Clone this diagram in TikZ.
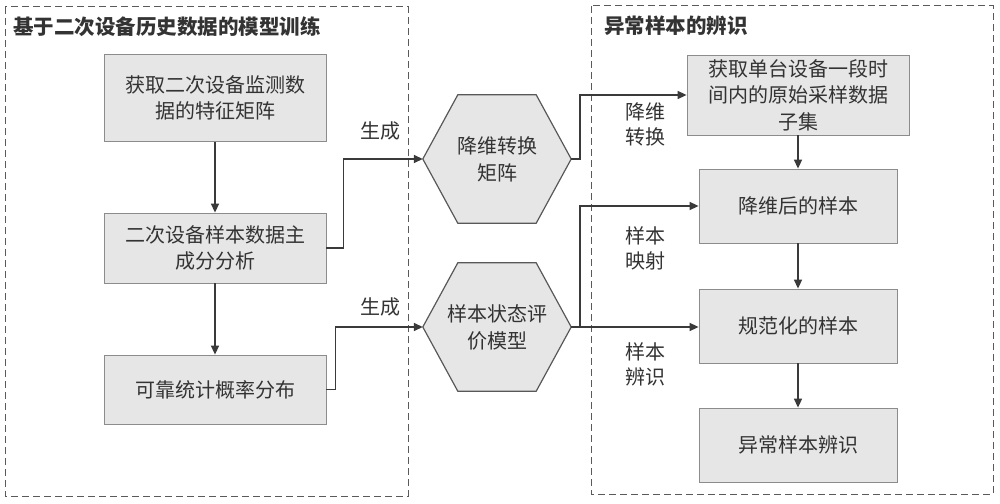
\documentclass[tikz,border=0pt]{standalone}
\usepackage{fontspec}
\setmainfont{Noto Sans CJK SC}
\usetikzlibrary{arrows.meta,backgrounds}
\definecolor{txt}{HTML}{333333}
\definecolor{ln}{HTML}{3A3A3A}
\definecolor{boxfill}{HTML}{E6E6E6}
\definecolor{boxline}{HTML}{8C8C8C}
\definecolor{dash}{HTML}{5A5A5A}
\tikzset{
  procbox/.style={draw=boxline,fill=boxfill,line width=0.8pt,inner sep=0pt,align=center,text=txt,
    font=\fontsize{20}{26.5}\selectfont},
  hexnode/.style={inner sep=0pt,align=center,text=txt,minimum width=148pt,minimum height=128pt,
    font=\fontsize{20}{27}\selectfont},
  hexline/.style={draw=ln!85,fill=boxfill,line width=1.2pt},
  lbl/.style={text=txt,align=center,inner sep=0pt,font=\fontsize{20}{25}\selectfont},
  ttl/.style={text=txt,anchor=west,inner sep=0pt,font=\fontsize{20.5}{22}\selectfont\bfseries},
  frame/.style={draw=dash,line width=1pt,dash pattern=on 7pt off 4pt},
  arr/.style={draw=ln,line width=1.5pt,-{Triangle[length=9pt,width=8pt]}},
}
\begin{document}
\begin{tikzpicture}[x=1pt,y=-1pt]
\useasboundingbox (0,0) rectangle (1000,503);
% frames
\draw[frame] (5,7) rectangle (408,496);
\draw[frame] (591,6) rectangle (993,494);
\node[ttl] (t1) at (13,27) {基于二次设备历史数据的模型训练};
\node[ttl] (t2) at (604,26) {异常样本的辨识};
% left boxes
\node[procbox,minimum width=222pt,minimum height=87pt] (b1) at (215,98) {获取二次设备监测数\\据的特征矩阵};
\node[procbox,minimum width=222pt,minimum height=70pt] (b2) at (215,248) {二次设备样本数据主\\成分分析};
\node[procbox,minimum width=222pt,minimum height=69pt] (b3) at (215,389.5) {可靠统计概率分布};
% hexagons
\node[hexnode] (h1) at (497,159) {降维转换\\矩阵};
\node[hexnode] (h2) at (497,327) {样本状态评\\价模型};
\begin{scope}[on background layer]
\foreach \h in {h1,h2}{
  \draw[hexline] (\h.west) -- ([xshift=35pt]\h.north west) -- ([xshift=-35pt]\h.north east)
    -- (\h.east) -- ([xshift=-35pt]\h.south east) -- ([xshift=35pt]\h.south west) -- cycle;
}
\end{scope}
% right boxes
\node[procbox,minimum width=222pt,minimum height=80pt] (r1) at (798,95) {获取单台设备一段时\\间内的原始采样数据\\子集};
\node[procbox,minimum width=198pt,minimum height=74pt] (r2) at (798,206) {降维后的样本};
\node[procbox,minimum width=198pt,minimum height=74pt] (r3) at (798,326) {规范化的样本};
\node[procbox,minimum width=198pt,minimum height=74pt] (r4) at (798,445) {异常样本辨识};
% vertical arrows
\draw[arr] (b1.south) -- (b2.north);
\draw[arr] (b2.south) -- (b3.north);
\draw[arr] (r1.south) -- (r2.north);
\draw[arr] (r2.south) -- (r3.north);
\draw[arr] (r3.south) -- (r4.north);
% connectors
\draw[arr] (b2.east) -- ++(17,0) |- (h1.west);
\draw[arr] (b3.east) -- ++(9,0) |- (h2.west);
\draw[arr] (h1.east) -- ++(9,0) |- (r1.west);
\draw[arr] (h2.east) -- ++(9,0) |- (r2.west);
\draw[arr] (h2.east) -- (h2.east -| r3.west);
% labels
\node[lbl] (l1) at (380,131) {生成};
\node[lbl] (l2) at (380,307) {生成};
\node[lbl] (l3) at (645,124.5) {降维\\转换};
\node[lbl] (l4) at (645,248) {样本\\映射};
\node[lbl] (l5) at (645,364) {样本\\辨识};
\end{tikzpicture}
\end{document}
